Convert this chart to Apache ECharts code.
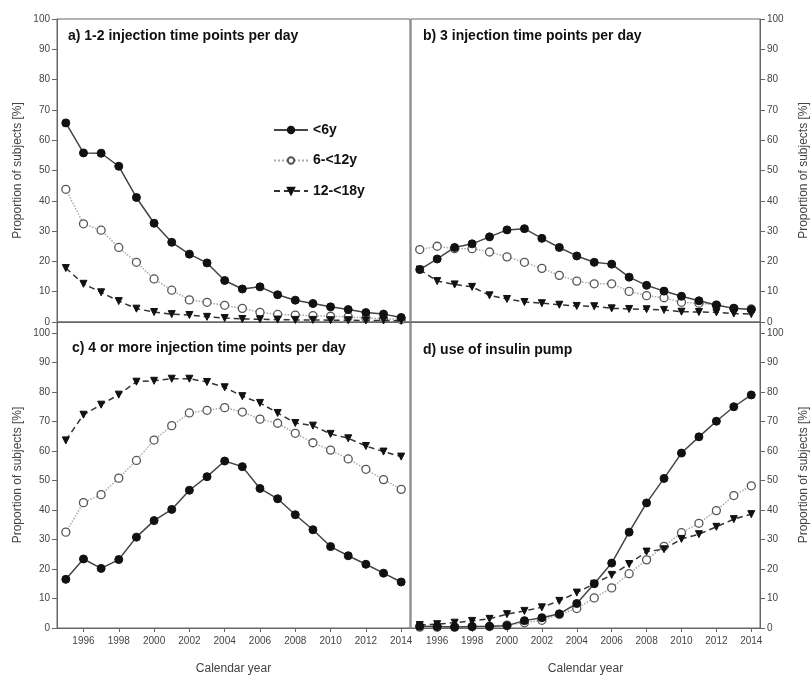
<!DOCTYPE html>
<html><head><meta charset="utf-8">
<script src="https://cdn.jsdelivr.net/npm/echarts@6/dist/echarts.min.js"></script>
<style>html,body{margin:0;padding:0;background:#fff}#c{width:811px;height:677px}</style>
</head><body><div id="c"></div>
<script>
const years = [1995,1996,1997,1998,1999,2000,2001,2002,2003,2004,2005,2006,2007,2008,2009,2010,2011,2012,2013,2014];
const seriesNames = ['<6y','6-<12y','12-<18y'];
const panelTitles = ['a) 1-2 injection time points per day','b) 3 injection time points per day','c) 4 or more injection time points per day','d) use of insulin pump'];
const yTicks = [0,10,20,30,40,50,60,70,80,90,100];
const yAxisName = 'Proportion of subjects [%]';
const xAxisName = 'Calendar year';

// a) 1-2 injection time points per day
const a_lt6 = [65.7,55.8,55.7,51.4,41.1,32.6,26.3,22.4,19.5,13.7,10.9,11.6,9.0,7.2,6.1,5.0,4.1,3.1,2.6,1.5];
const a_6to12 = [43.8,32.4,30.3,24.6,19.7,14.2,10.5,7.3,6.5,5.5,4.5,3.2,2.5,2.3,2.1,1.9,1.7,1.3,1.1,0.8];
const a_12to18 = [17.8,12.6,9.8,6.9,4.4,3.3,2.6,2.3,1.7,1.3,1.0,0.9,0.8,0.7,0.7,0.6,0.6,0.5,0.5,0.4];
// b) 3 injection time points per day
const b_lt6 = [17.3,20.8,24.6,25.8,28.1,30.4,30.8,27.6,24.6,21.8,19.7,19.1,14.8,12.1,10.2,8.5,7.0,5.6,4.5,4.1];
const b_6to12 = [23.9,25.0,24.2,24.2,23.1,21.5,19.7,17.7,15.4,13.5,12.6,12.6,10.1,8.7,8.0,6.5,6.2,5.6,4.5,4.3];
const b_12to18 = [17.3,13.5,12.4,11.6,8.8,7.6,6.6,6.2,5.7,5.3,5.2,4.5,4.3,4.2,4.0,3.4,3.3,3.2,2.8,2.6];
// c) 4 or more injection time points per day
const c_lt6 = [16.5,23.4,20.2,23.2,30.8,36.4,40.2,46.7,51.3,56.6,54.7,47.3,43.8,38.4,33.3,27.6,24.5,21.6,18.6,15.6];
const c_6to12 = [32.5,42.5,45.2,50.8,56.8,63.7,68.6,72.9,73.8,74.7,73.2,70.8,69.4,66.0,62.8,60.3,57.3,53.8,50.3,47.0];
const c_12to18 = [63.6,72.3,75.7,79.1,83.5,83.8,84.5,84.5,83.4,81.6,78.6,76.3,72.9,69.5,68.6,65.8,64.3,61.7,59.8,58.1];
// d) use of insulin pump
const d_lt6 = [0.6,0.5,0.3,0.5,0.6,0.8,2.5,3.5,4.8,8.3,15.0,22.0,32.5,42.4,50.7,59.3,64.8,70.1,75.0,79.0];
const d_6to12 = [0.3,0.3,0.3,0.5,0.5,1.0,1.8,2.6,4.6,6.6,10.2,13.6,18.4,23.1,27.7,32.3,35.5,39.8,44.9,48.2];
const d_12to18 = [1.0,1.3,1.8,2.4,3.1,4.7,5.8,7.0,9.2,12.0,15.0,18.0,21.7,25.9,26.7,30.2,31.8,34.3,36.9,38.6];

const panels = [[a_lt6,a_6to12,a_12to18],[b_lt6,b_6to12,b_12to18],[c_lt6,c_6to12,c_12to18],[d_lt6,d_6to12,d_12to18]];

const FONT = '"Liberation Sans", Arial, sans-serif';
const AX = '#666';
const grids = [
  {left:57, top:19, width:353, height:303},
  {left:411, top:19, width:354, height:303},
  {left:57, top:322, width:353, height:306},
  {left:411, top:322, width:354, height:306}
];
const bottomMax = 100 * 306 / 295;

const xAxes = grids.map((g,i)=>({
  type:'category', gridIndex:i, data: years.map(String), boundaryGap:true,
  axisLine:{show:true, lineStyle:{color:AX, width:1}},
  axisTick:{show:i>=2, alignWithLabel:true, length:4, lineStyle:{color:AX}, interval:(idx)=>idx%2===1},
  axisLabel:{show:i>=2, interval:(idx)=>idx%2===1, margin:8, fontFamily:FONT, fontSize:10, color:'#444'},
  name: i>=2 ? xAxisName : '', nameLocation:'middle', nameGap:35,
  nameTextStyle:{fontFamily:FONT, fontSize:12, color:'#444'},
  splitLine:{show:false}
}));
const yAxes = grids.map((g,i)=>({
  type:'value', gridIndex:i, min:0, max: i>=2 ? bottomMax : 100, interval:10,
  position: (i%2===0) ? 'left' : 'right',
  axisLine:{show:true, lineStyle:{color:AX, width:1}},
  axisTick:{show:true, length:5, lineStyle:{color:AX}},
  axisLabel:{margin:7, fontFamily:FONT, fontSize:10, color:'#444',
    formatter:(v)=> yTicks.indexOf(Math.round(v*1000)/1000) >= 0 ? String(v) : ''},
  splitLine:{show:false},
  name: yAxisName, nameLocation:'middle', nameGap: (i%2===0) ? 33 : 38,
  nameTextStyle:{fontFamily:FONT, fontSize:12, color:'#444'}
}));

const styles = [
  {symbol:'circle', symbolSize:8, symbolRotate:0, itemStyle:{color:'#111', borderColor:'#111', borderWidth:1}, lineStyle:{color:'#444', width:1.5, type:'solid'}},
  {symbol:'circle', symbolSize:8, symbolRotate:0, itemStyle:{color:'#fff', borderColor:'#555', borderWidth:1.3}, lineStyle:{color:'#aaa', width:1.5, type:'dotted'}},
  {symbol:'triangle', symbolSize:7, symbolRotate:180, itemStyle:{color:'#111', borderColor:'#111', borderWidth:1}, lineStyle:{color:'#333', width:1.5, type:[6,4]}}
];

const series = [];
panels.forEach((p,i)=>{
  p.forEach((vals,k)=>{
    series.push(Object.assign({
      type:'line', name: seriesNames[k], xAxisIndex:i, yAxisIndex:i, data: vals,
      showSymbol:true, animation:false, z: 3 + (k===0?2:(k===2?1:0))
    }, styles[k]));
  });
});

const titles = [
  {text:panelTitles[0], left:68, top:29},
  {text:panelTitles[1], left:423, top:29},
  {text:panelTitles[2], left:72, top:341},
  {text:panelTitles[3], left:423, top:343}
].map(t=>Object.assign(t,{padding:0, textStyle:{fontFamily:FONT, fontSize:14, fontWeight:'bold', color:'#111'}}));

const chart = echarts.init(document.getElementById('c'), null, {renderer:'canvas'});
chart.setOption({
  animation:false,
  backgroundColor:'#fff',
  title: titles,
  grid: grids.map(g=>Object.assign({show:true, borderColor:AX, borderWidth:1, backgroundColor:'transparent', containLabel:false}, g)),
  xAxis: xAxes,
  yAxis: yAxes,
  legend: {
    data: seriesNames, orient:'vertical', left:273, top:123, itemWidth:34, itemHeight:8, itemGap:16.5,
    padding:0, selectedMode:false,
    textStyle:{fontFamily:FONT, fontSize:14, fontWeight:'bold', color:'#111', padding:[0,0,0,0]}
  },
  series: series
});
</script></body></html>
